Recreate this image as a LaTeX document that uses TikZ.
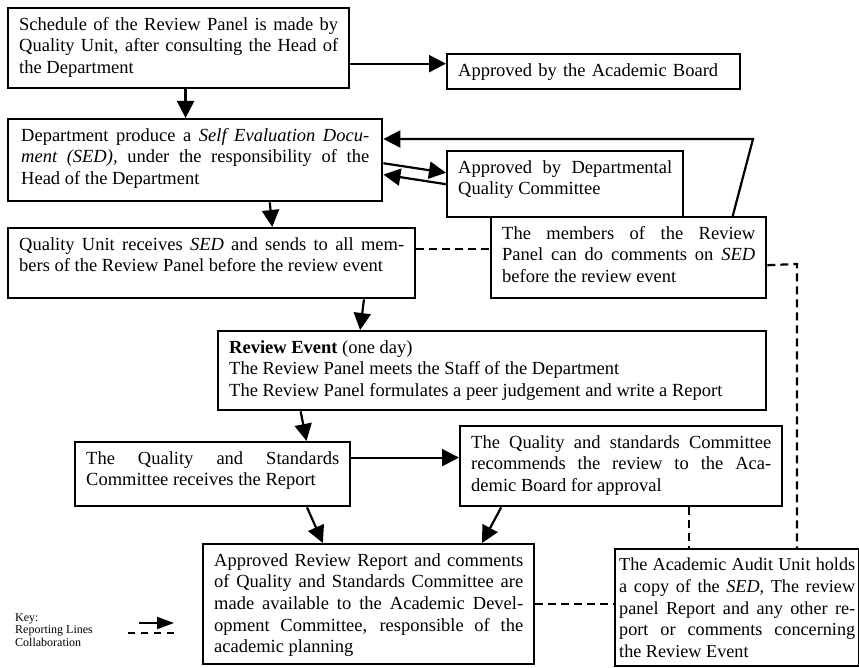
\documentclass[tikz,border=0pt]{standalone}
\usepackage{fontspec}
\setmainfont{Liberation Serif}
\usetikzlibrary{arrows.meta,calc}

% fixed-size, top-aligned, justified text block
\newcommand\boxtext[3]{\parbox[c][#2pt][t]{#1pt}{\tolerance=10000\hbadness=10000\relax #3}}

\tikzset{
  box/.style={draw, line width=2.4pt, anchor=north west, inner xsep=11pt, inner ysep=9pt,
              font=\fontsize{18.5}{21.7}\selectfont},
  flow/.style={line width=2.2pt, -{Triangle[length=17pt,width=17pt]}},
  collab/.style={line width=2.2pt, dash pattern=on 8pt off 5pt},
  keytext/.style={anchor=base west, inner sep=0pt, font=\fontsize{12}{12.5}\selectfont},
}

\begin{document}
\begin{tikzpicture}[x=1pt,y=-1pt]
\useasboundingbox (0,0) rectangle (859,668);
\fill[white] (0,0) rectangle (859,668);

% ---------- boxes ----------
\node[box] (sched) at (7,7) {\boxtext{319}{62}{Schedule of the Review Panel is made by\linebreak
  Quality Unit, after consulting the Head of\linebreak the Department}};

\node[box, minimum height=34pt, text width=271pt, align=left] (board) at (446,53)
  {Approved by the Academic Board};

\node[box, inner xsep=13pt] (sed) at (7,118) {\boxtext{348}{64}{Department produce a
  \textit{Self Evaluation Docu-}\linebreak \textit{ment (SED),} under the responsibility of the\linebreak
  Head of the Department}};

\node[box] (dqc) at (446,150) {\boxtext{214}{48}{Approved by Departmental\linebreak Quality Committee}};

\node[box] (mem) at (490,216) {\boxtext{253}{63}{The members of the Review\linebreak
  Panel can do comments on \textit{SED}\linebreak before the review event}};

\node[box] (qu) at (7,227) {\boxtext{385}{52}{Quality Unit receives \textit{SED} and sends to all mem-\linebreak
  bers of the Review Panel before the review event}};

\node[box] (rev) at (217,330) {\boxtext{526}{61}{\textbf{Review Event} (one day)\\
  The Review Panel meets the Staff of the Department\\
  The Review Panel formulates a peer judgement and write a Report}};

\node[box] (qsc) at (74,441) {\boxtext{253}{46}{The Quality and Standards\linebreak
  Committee receives the Report}};

\node[box] (rec) at (459,425) {\boxtext{300}{62}{The Quality and standards Committee\linebreak
  recommends the review to the Aca-\linebreak demic Board for approval}};

\node[box] (arr) at (202,543) {\boxtext{309}{102}{Approved Review Report and comments\linebreak
  of Quality and Standards Committee are\linebreak made available to the Academic Devel-\linebreak
  opment Committee, responsible of the\linebreak academic planning}};

\node[box, inner xsep=4pt, font=\fontsize{18.2}{21.7}\selectfont] (aud) at (614,548)
  {\boxtext{236}{99}{The Academic Audit Unit holds\linebreak a copy of the \textit{SED}, The review\linebreak
  panel Report and any other re-\linebreak port or comments concerning\linebreak the Review Event}};

% ---------- reporting lines ----------
\coordinate (e1) at ($(sched.north east)!0.6875!(sched.south east)$);
\draw[flow] (e1) -- (e1 -| board.west);

\coordinate (e2) at ($(sched.south west)!0.52!(sched.south east)$);
\draw[flow] (e2) -- (e2 |- sed.north);

\draw[flow] ($(sed.north east)!0.536!(sed.south east)$) -- ($(dqc.north west)!0.333!(dqc.south west)$);
\draw[flow] (dqc.west) -- ($(sed.north east)!0.67!(sed.south east)$);

\coordinate (bend) at (753,139);
\draw[flow] ($(mem.north west)!0.875!(mem.north east)$) -- (bend) -- (bend -| sed.east);

\draw[flow] ($(sed.south west)!0.698!(sed.south east)$) -- ($(qu.north west)!0.648!(qu.north east)$);
\draw[flow] ($(qu.south west)!0.872!(qu.south east)$) -- ($(rev.north west)!0.26!(rev.north east)$);
\draw[flow] ($(rev.south west)!0.152!(rev.south east)$) -- ($(qsc.north west)!0.838!(qsc.north east)$);

\coordinate (e11) at ($(qsc.north east)!0.25!(qsc.south east)$);
\draw[flow] (e11) -- (e11 -| rec.west);

\draw[flow] ($(qsc.south west)!0.84!(qsc.south east)$) -- ($(arr.north west)!0.3625!(arr.north east)$);
\draw[flow] ($(rec.south west)!0.13!(rec.south east)$) -- ($(arr.north west)!0.84!(arr.north east)$);

% ---------- collaboration ----------
\coordinate (e8) at ($(qu.north east)!0.3!(qu.south east)$);
\draw[collab] (e8) -- (e8 -| mem.west);

\coordinate (e9) at ($(mem.north east)!0.59!(mem.south east)$);
\coordinate (drop) at (797,264);
\draw[collab] (e9) -- (drop) -- (drop |- aud.north);

\coordinate (e14) at ($(rec.south west)!0.71!(rec.south east)$);
\draw[collab] (e14) -- (e14 |- aud.north);

\draw[collab] (arr.east) -- (arr.east -| aud.west);

% ---------- key ----------
\node[keytext] (keyhead) at (15,621) {Key:};
\node[keytext] (keyrep) at (15,633.5) {Reporting Lines};
\node[keytext] (keycol) at (15,646) {Collaboration};
\coordinate (ka) at (139,623);
\coordinate (kb) at (174,623);
\draw[line width=2pt, -{Triangle[length=17pt,width=12pt]}] (ka) -- (kb);
\coordinate (kc) at (128,633);
\coordinate (kd) at (175,633);
\draw[line width=2pt, dash pattern=on 7pt off 6pt] (kc) -- (kd);
\end{tikzpicture}
\end{document}
